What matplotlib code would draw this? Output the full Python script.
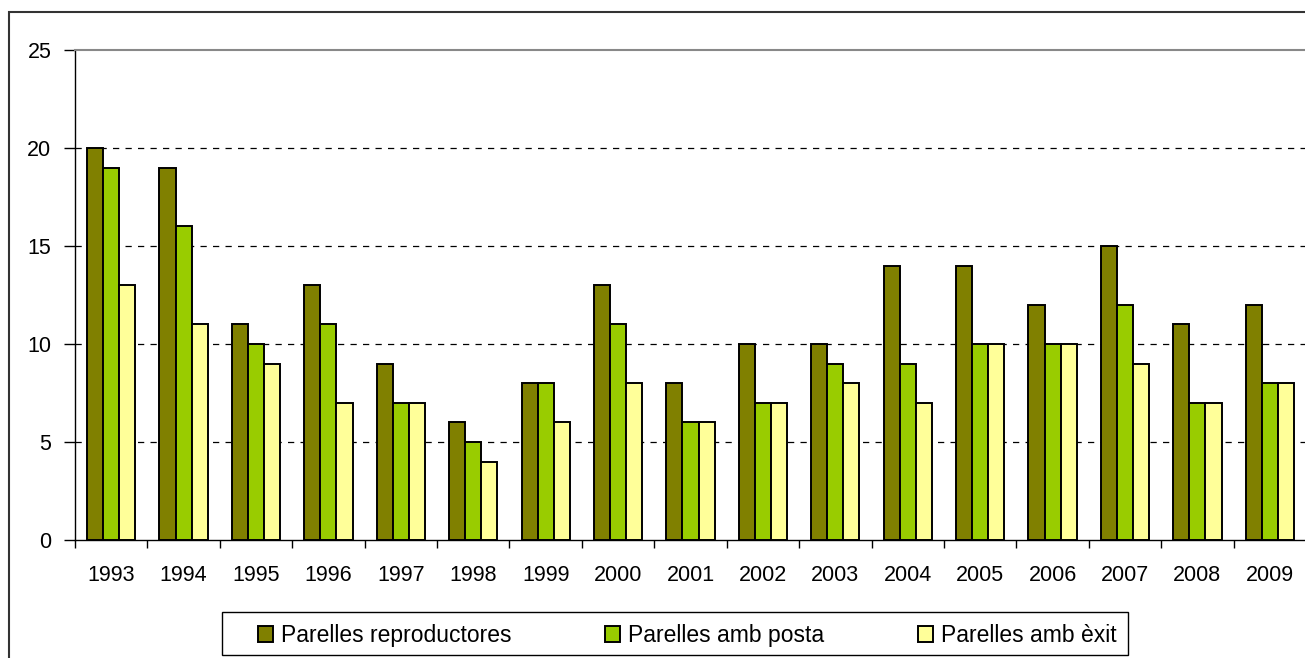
import matplotlib
matplotlib.use("Agg")
import matplotlib.pyplot as plt
from matplotlib.patches import Rectangle
import numpy as np

plt.rcParams['font.family'] = ['Liberation Sans', 'DejaVu Sans']

years = ["1993", "1994", "1995", "1996", "1997", "1998", "1999", "2000", "2001",
         "2002", "2003", "2004", "2005", "2006", "2007", "2008", "2009"]
reproductores = [20, 19, 11, 13, 9, 6, 8, 13, 8, 10, 10, 14, 14, 12, 15, 11, 12]
amb_posta = [19, 16, 10, 11, 7, 5, 8, 11, 6, 7, 9, 9, 10, 10, 12, 7, 8]
amb_exit = [13, 11, 9, 7, 7, 4, 6, 8, 6, 7, 8, 7, 10, 10, 9, 7, 8]
labels = ["Parelles reproductores", "Parelles amb posta", "Parelles amb èxit"]
colors = ["#808000", "#99CC00", "#FFFF99"]

W, H = 1305, 658
fig = plt.figure(figsize=(W / 100, H / 100), dpi=100)
ax = fig.add_axes([75 / W, (H - 540) / H, 1231 / W, 490 / H])

x = np.arange(len(years))
bw = 1 / 4.5
series = [reproductores, amb_posta, amb_exit]
for i, (vals, c, lab) in enumerate(zip(series, colors, labels)):
    ax.bar(x + (i - 1) * bw, vals, width=bw, color=c, edgecolor="black",
           linewidth=1.4, label=lab, zorder=3)

ax.set_xlim(-0.5, len(years) - 0.5)
ax.set_ylim(0, 25)
ax.set_yticks([0, 5, 10, 15, 20, 25])
for v in [5, 10, 15, 20]:
    ax.axhline(v, color="black", lw=0.9, ls=(0, (5, 5)), zorder=1)
ax.set_xticks(x)
ax.set_xticklabels(years, fontsize=15.5)
ax.set_xticks(np.arange(-0.5, len(years) + 0.5, 1), minor=True)
ax.tick_params(axis="x", which="major", length=0, pad=18)
ax.tick_params(axis="x", which="minor", length=6, width=1, direction="out")
ax.tick_params(axis="y", length=8, width=1, direction="out", labelsize=15.5, pad=9)

ax.spines["top"].set_color("#888888")
ax.spines["top"].set_linewidth(1.5)
ax.spines["right"].set_visible(False)
ax.spines["left"].set_linewidth(1)
ax.spines["bottom"].set_linewidth(1)

# outer chart border
fig.patches.append(Rectangle((9 / W, -0.1), 1.2, (H - 12) / H + 0.1, transform=fig.transFigure,
                             fill=False, edgecolor="#333333", linewidth=1.5))

# legend frame
fig.patches.append(Rectangle((222 / W, (H - 655) / H), (1128 - 222) / W, 43 / H,
                             transform=fig.transFigure, fill=False, edgecolor="black", linewidth=1))

leg = fig.legend(loc="center left", bbox_to_anchor=(258 / W, (H - 657) / H, (1117 - 258) / W, 43 / H),
                 ncol=3, mode="expand", fontsize=16.5, frameon=False,
                 handlelength=0.65, handleheight=0.65, handletextpad=0.35,
                 borderpad=0, borderaxespad=0)

fig.savefig("out.png", dpi=100)
